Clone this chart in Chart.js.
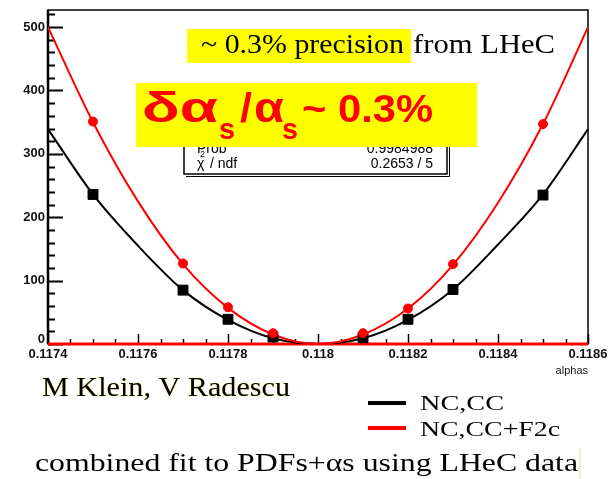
<!DOCTYPE html>
<html>
<head>
<meta charset="utf-8">
<script src="https://cdn.jsdelivr.net/npm/chart.js@4.4.1/dist/chart.umd.min.js"></script>
<style>
  html, body { margin: 0; padding: 0; background: #fff; }
  #chi2 { display: block; }
</style>
</head>
<body>
<canvas id="chi2" width="613" height="479"></canvas>
<script>
// chi2 scan vs alphas, two fit configurations
const alphaPts = [0.1175, 0.1177, 0.1178, 0.1179, 0.1181, 0.1182, 0.1183, 0.1185];
const chi2NcCc = [236, 85, 39, 11, 10, 39, 86, 235];
const chi2NcCcF2c = [351, 127, 58, 17, 17, 56, 126, 347];

// fitted parabolas, read every 0.0001
const alphaFit = [0.1174, 0.1175, 0.1176, 0.1177, 0.1178, 0.1179, 0.1180,
                  0.1181, 0.1182, 0.1183, 0.1184, 0.1185, 0.1186];
const fitNcCc = [339, 236, 155, 85, 38, 9, 0, 9, 38, 86, 157, 236, 339];
const fitNcCcF2c = [500, 350, 225, 126, 57, 15, 0, 15, 56, 125, 223, 347, 500];

const yTicks = [0, 100, 200, 300, 400, 500];
const xTicks = ['0.1174', '0.1176', '0.1178', '0.118', '0.1182', '0.1184', '0.1186'];

const pairs = (xs, ys) => xs.map((x, i) => ({ x: x, y: ys[i] }));

const SANS = '"Liberation Sans", Arial, sans-serif';
const SERIF = '"Liberation Serif", "DejaVu Serif", serif';

// draw text squeezed/stretched to a given width
function fitText(ctx, text, x, y, w) {
  const m = ctx.measureText(text).width;
  ctx.save();
  ctx.translate(x, y);
  ctx.scale(w / m, 1);
  ctx.fillText(text, 0, 0);
  ctx.restore();
}

const rootFrame = {
  id: 'rootFrame',
  beforeDatasetsDraw(chart) {
    const { ctx, chartArea: a, scales: { x, y } } = chart;
    ctx.save();
    ctx.strokeStyle = '#000';
    // frame
    ctx.lineWidth = 1.5;
    ctx.strokeRect(a.left, a.top, a.right - a.left, a.bottom - a.top);
    ctx.lineWidth = 2.5;
    ctx.beginPath();
    ctx.moveTo(a.left, a.top);
    ctx.lineTo(a.left, a.bottom);
    ctx.stroke();

    // y ticks, inside the frame
    ctx.lineWidth = 2;
    for (let v = 0; v <= 520; v += 20) {
      const py = Math.round(y.getPixelForValue(v)) + 0.5;
      const len = v % 100 === 0 ? 15 : 7;
      ctx.beginPath();
      ctx.moveTo(a.left, py);
      ctx.lineTo(a.left + len, py);
      ctx.stroke();
    }
    // x ticks
    ctx.lineWidth = 1.5;
    for (let k = 0; k <= 24; k++) {
      const px = Math.round(x.getPixelForValue(0.1174 + k * 0.00005)) + 0.5;
      const len = k % 4 === 0 ? 10 : 5;
      ctx.beginPath();
      ctx.moveTo(px, a.bottom);
      ctx.lineTo(px, a.bottom - len);
      ctx.stroke();
    }

    // tick labels
    ctx.fillStyle = '#111';
    ctx.font = 'bold 13px ' + SANS;
    ctx.textAlign = 'right';
    ctx.textBaseline = 'middle';
    yTicks.forEach(v => {
      const py = y.getPixelForValue(v);
      ctx.fillText(String(v), a.left - 3, v === 0 ? py - 5 : py);
    });
    ctx.textAlign = 'center';
    ctx.textBaseline = 'top';
    xTicks.forEach(t => {
      ctx.fillText(t, x.getPixelForValue(parseFloat(t)), a.bottom + 4);
    });
    ctx.font = '11px ' + SANS;
    ctx.textAlign = 'right';
    ctx.textBaseline = 'alphabetic';
    ctx.fillText('alphas', a.right, a.bottom + 30);
    ctx.restore();
  },
  afterDraw(chart) {
    const ctx = chart.ctx;
    ctx.save();

    // fit statistics box
    ctx.fillStyle = '#fff';
    ctx.fillRect(184, 128, 263, 46);
    ctx.strokeStyle = '#000';
    ctx.lineWidth = 1.5;
    ctx.strokeRect(184, 128, 263, 46);
    ctx.lineWidth = 1;
    ctx.beginPath();
    ctx.moveTo(186, 176.5);
    ctx.lineTo(449.5, 176.5);
    ctx.lineTo(449.5, 130);
    ctx.stroke();
    ctx.fillStyle = '#000';
    ctx.font = '14px ' + SANS;
    ctx.textBaseline = 'alphabetic';
    ctx.textAlign = 'left';
    ctx.fillText('Prob', 197, 153);
    ctx.fillText('\u03c7', 197, 168);
    ctx.fillText(' / ndf', 206, 168);
    ctx.font = '9px ' + SANS;
    ctx.fillText('2', 200, 157);
    ctx.font = '14px ' + SANS;
    ctx.textAlign = 'right';
    ctx.fillText('0.9984988', 433, 153);
    ctx.fillText('0.2653 / 5', 433, 168);

    // big yellow label
    ctx.fillStyle = '#ffff00';
    ctx.fillRect(136, 83, 341, 64);
    ctx.fillStyle = '#ff0000';
    ctx.textAlign = 'left';
    ctx.font = 'bold 42px ' + SANS;
    fitText(ctx, '\u03b4\u03b1', 142, 122, 76);
    ctx.font = 'bold 30px ' + SANS;
    fitText(ctx, 's', 219, 139, 16);
    ctx.font = 'bold 40px ' + SANS;
    fitText(ctx, '/', 240, 122, 12);
    ctx.font = 'bold 42px ' + SANS;
    fitText(ctx, '\u03b1', 254, 122, 30);
    ctx.font = 'bold 30px ' + SANS;
    fitText(ctx, 's', 282, 139, 16);
    ctx.font = 'bold 38px ' + SANS;
    fitText(ctx, '~ 0.3%', 302, 122, 131);

    // precision note
    ctx.fillStyle = '#ffff00';
    ctx.fillRect(187, 29, 224, 34);
    ctx.fillStyle = '#000';
    ctx.font = '27px ' + SERIF;
    fitText(ctx, '~ 0.3% precision', 201, 53, 203);
    fitText(ctx, 'from LHeC', 413, 53, 142);

    // authors
    ctx.save();
    ctx.shadowColor = 'rgba(220,220,0,0.7)';
    ctx.shadowBlur = 1.5;
    ctx.font = '28px ' + SERIF;
    fitText(ctx, 'M Klein, V Radescu', 42, 396, 248);
    ctx.restore();

    // legend
    ctx.lineWidth = 4;
    ctx.strokeStyle = '#000';
    ctx.beginPath();
    ctx.moveTo(368, 403);
    ctx.lineTo(406, 403);
    ctx.stroke();
    ctx.strokeStyle = '#ff0000';
    ctx.beginPath();
    ctx.moveTo(368, 428);
    ctx.lineTo(406, 428);
    ctx.stroke();
    ctx.fillStyle = '#000';
    ctx.font = '22px ' + SERIF;
    fitText(ctx, 'NC,CC', 420, 410, 84);
    fitText(ctx, 'NC,CC+F2c', 420, 436, 140);

    // caption
    ctx.font = '25px ' + SERIF;
    fitText(ctx, 'combined fit to PDFs+\u03b1s using LHeC data', 35, 471, 543);
    ctx.strokeStyle = '#ece6c8';
    ctx.lineWidth = 1.5;
    ctx.beginPath();
    ctx.moveTo(580, 448);
    ctx.lineTo(580, 479);
    ctx.stroke();

    ctx.restore();
  }
};

new Chart(document.getElementById('chi2'), {
  type: 'line',
  data: {
    datasets: [
      {
        label: 'NC,CC+F2c points',
        data: pairs(alphaPts, chi2NcCcF2c),
        showLine: false,
        pointStyle: 'circle',
        pointRadius: 4.5,
        backgroundColor: '#ff0000',
        borderColor: '#ff0000',
        order: 1
      },
      {
        label: 'NC,CC points',
        data: pairs(alphaPts, chi2NcCc),
        showLine: false,
        pointStyle: 'rect',
        pointRadius: 7,
        backgroundColor: '#000',
        borderColor: '#000',
        order: 2
      },
      {
        label: 'NC,CC+F2c',
        data: pairs(alphaFit, fitNcCcF2c),
        borderColor: '#ff0000',
        borderWidth: 2,
        pointRadius: 0,
        cubicInterpolationMode: 'monotone',
        order: 3
      },
      {
        label: 'NC,CC',
        data: pairs(alphaFit, fitNcCc),
        borderColor: '#000',
        borderWidth: 2,
        pointRadius: 0,
        cubicInterpolationMode: 'monotone',
        order: 4
      },
      {
        label: 'zero',
        data: pairs([0.1174, 0.1186], [0, 0]),
        borderColor: '#ff0000',
        borderWidth: 3,
        pointRadius: 0,
        clip: false,
        order: 5
      }
    ]
  },
  options: {
    responsive: false,
    animation: false,
    events: [],
    layout: { padding: { left: 48, top: 10, right: 25, bottom: 135 } },
    plugins: { legend: { display: false }, tooltip: { enabled: false } },
    scales: {
      x: { type: 'linear', min: 0.1174, max: 0.1186, display: false },
      y: { min: 0, max: 527, display: false }
    }
  },
  plugins: [rootFrame]
});
</script>
</body>
</html>
